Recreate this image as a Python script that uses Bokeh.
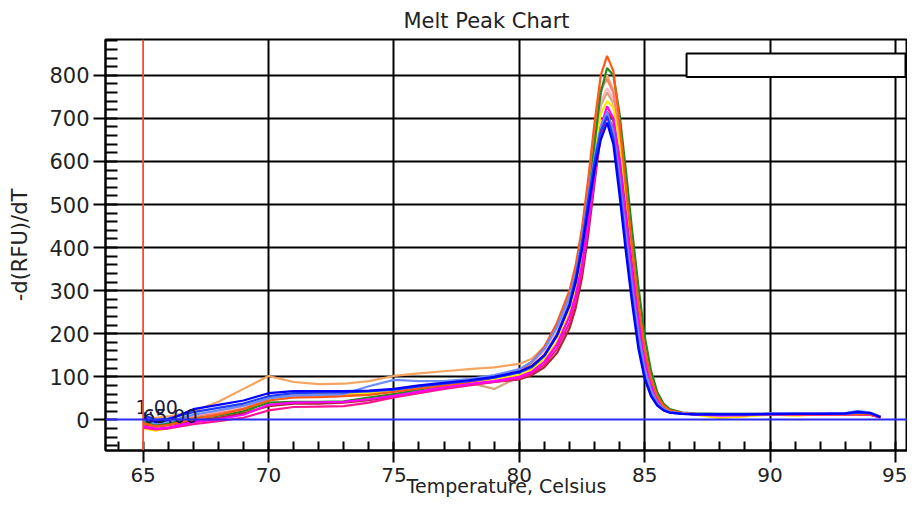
from bokeh.plotting import figure
from bokeh.models import Range1d, SingleIntervalTicker, FixedTicker, Span, BoxAnnotation
from bokeh.core.properties import value
from bokeh.embed import file_html
from bokeh.resources import INLINE

# ---- data -------------------------------------------------------------
temps = [65.0, 65.5, 66.0, 67.0, 68.0, 69.0, 70.0, 71.0, 72.0, 73.0, 74.0, 75.0, 76.0, 77.0, 78.0, 79.0, 80.0,
         80.5, 81.0, 81.5, 82.0,
         82.25, 82.5, 82.75, 83.0, 83.25, 83.5, 83.75, 84.0, 84.25, 84.5, 84.75, 85.0, 85.25, 85.5, 85.75, 86.0,
         86.5, 87.0, 88.0, 89.0, 90.0, 91.0, 92.0, 93.0, 93.5, 94.0, 94.4]

tan = [0, -6, -2, 10, 18, 30, 50, 56, 57, 58, 62, 68, 76, 84, 86, 72, 100,
       120, 152, 200, 272,
       330, 410, 520, 640, 730, 760, 735, 640, 510, 380, 262, 162, 94, 54, 33, 22,
       16, 14, 13, 13, 14, 14, 14, 14, 15, 14, 7]
sandy = [8, 5, 8, 20, 42, 72, 102, 88, 83, 84, 90, 102, 108, 113, 118, 122, 130,
         142, 170, 220, 295,
         350, 430, 540, 660, 760, 800, 765, 650, 510, 380, 260, 160, 92, 52, 32, 22,
         16, 14, 13, 13, 14, 14, 14, 14, 15, 14, 8]
lightpink = [2, -6, -3, 10, 18, 28, 46, 52, 54, 56, 60, 68, 78, 88, 94, 100, 112,
             128, 158, 208, 280,
             340, 420, 530, 650, 740, 770, 745, 650, 520, 390, 270, 168, 98, 56, 34, 23,
             17, 15, 14, 14, 15, 15, 15, 15, 18, 16, 8]
salmon = [-3, -10, -6, 6, 15, 26, 48, 55, 56, 57, 60, 66, 74, 82, 90, 98, 114,
          132, 165, 218, 292,
          352, 435, 550, 675, 770, 790, 760, 660, 525, 392, 268, 165, 96, 55, 33, 22,
          16, 14, 13, 13, 14, 14, 14, 14, 15, 14, 7]
yellow = [-20, -25, -20, -8, 2, 15, 45, 58, 60, 61, 62, 66, 74, 82, 88, 95, 104,
          116, 140, 182, 250,
          305, 380, 485, 610, 710, 740, 725, 640, 510, 380, 260, 160, 92, 52, 32, 21,
          15, 12, 4, 8, 12, 10, 13, 13, 13, 12, 6]
green = [-5, -12, -8, 3, 10, 20, 40, 42, 42, 43, 52, 60, 70, 80, 93, 100, 110,
         122, 148, 195, 265,
         320, 400, 510, 640, 760, 817, 800, 710, 580, 440, 310, 195, 115, 65, 38, 25,
         17, 15, 14, 14, 14, 14, 14, 14, 14, 13, 7]
brown = [-10, -15, -12, -2, 5, 15, 32, 38, 38, 40, 46, 54, 64, 74, 82, 88, 94,
         104, 122, 155, 212,
         260, 330, 430, 550, 665, 715, 695, 605, 480, 355, 240, 148, 86, 50, 31, 21,
         16, 14, 13, 13, 13, 13, 13, 13, 13, 12, 6]
deeppink = [-18, -22, -20, -10, -3, 5, 22, 30, 31, 32, 40, 52, 62, 72, 80, 88, 96,
            108, 128, 165, 225,
            275, 345, 445, 560, 660, 705, 680, 585, 460, 335, 225, 138, 80, 46, 29, 20,
            15, 13, 12, 11, 13, 13, 13, 13, 13, 12, 6]
magenta = [-15, -20, -18, -5, 2, 12, 35, 40, 41, 42, 48, 56, 66, 76, 84, 90, 100,
           112, 135, 175, 240,
           290, 360, 460, 575, 680, 728, 700, 600, 470, 345, 230, 140, 80, 46, 29, 20,
           15, 13, 10, 11, 13, 13, 13, 13, 14, 12, 6]
orangered = [-8, -15, -12, 2, 12, 25, 45, 52, 53, 55, 58, 65, 73, 80, 88, 98, 115,
             135, 170, 225, 300,
             360, 445, 560, 690, 800, 845, 810, 690, 540, 400, 270, 165, 95, 55, 33, 22,
             16, 14, 13, 13, 13, 13, 13, 13, 14, 13, 7]
cornflower = [0, -8, -4, 12, 22, 33, 50, 57, 58, 60, 78, 93, 90, 90, 95, 104, 118,
              135, 165, 215, 285,
              340, 420, 520, 610, 680, 715, 670, 560, 430, 310, 200, 118, 68, 40, 26, 19,
              15, 14, 14, 14, 15, 15, 15, 16, 21, 17, 8]
royal = [12, 0, 3, 18, 28, 38, 55, 62, 63, 64, 66, 70, 78, 84, 90, 98, 110,
         124, 150, 198, 270,
         330, 410, 510, 600, 670, 705, 655, 540, 405, 285, 175, 100, 58, 35, 23, 17,
         14, 13, 13, 13, 13, 14, 14, 14, 17, 15, 7]
blue = [5, -5, 0, 25, 35, 45, 62, 67, 67, 67, 68, 72, 80, 86, 92, 100, 112,
        125, 150, 195, 265,
        320, 395, 490, 580, 650, 690, 640, 520, 390, 270, 165, 95, 55, 33, 22, 17,
        14, 13, 13, 13, 14, 14, 14, 15, 19, 16, 6]

series = [tan, sandy, lightpink, salmon, yellow, green, brown, deeppink,
          magenta, orangered, cornflower, royal, blue]
series_colors = ["#d2a679", "#f4a460", "#ffb6c1", "#fa8072", "#ffe600", "#228b22", "#a52a2a", "#ff1493",
                 "#ff00ff", "#ff5a14", "#6a8cff", "#1e3cff", "#0000ff"]

x_ticks_major = [65, 70, 75, 80, 85, 90, 95]
y_ticks_major = [0, 100, 200, 300, 400, 500, 600, 700, 800]
cursor_temp = 65.0
cursor_level = 1.0
cursor_labels = ["1.00", "65.00"]
cursor_label_x = [64.7, 65.0]
cursor_label_y = [31, 9]

# ---- figure -----------------------------------------------------------
FONT = "DejaVu Sans"
p = figure(width=907, height=501, output_backend="svg", toolbar_location=None,
           x_range=Range1d(63.5, 95.48), y_range=Range1d(-71, 883),
           min_border_left=105, min_border_right=0, min_border_top=38, min_border_bottom=51,
           title="Melt Peak Chart")
p.background_fill_color = "white"
p.border_fill_color = "white"
p.outline_line_color = "black"
p.outline_line_width = 2

p.title.align = "left"
p.title.offset = 298
p.title.text_font = FONT
p.title.text_font_size = "21px"
p.title.text_font_style = "normal"
p.title.text_color = "#222222"
p.title.standoff = 13

# axes
p.xaxis.ticker = SingleIntervalTicker(interval=5, num_minor_ticks=5)
p.yaxis.ticker = SingleIntervalTicker(interval=100, num_minor_ticks=5)
for ax in (p.xaxis, p.yaxis):
    ax.axis_line_color = "black"
    ax.axis_line_width = 2
    ax.major_tick_line_color = "black"
    ax.major_tick_line_width = 2
    ax.minor_tick_line_color = "black"
    ax.minor_tick_line_width = 2
    ax.major_label_text_font = FONT
    ax.major_label_text_font_size = "21px"
    ax.major_label_text_color = "#222222"
    ax.axis_label_text_font = FONT
    ax.axis_label_text_font_style = "normal"
    ax.axis_label_text_color = "#222222"
    ax.major_tick_in = 0
    ax.minor_tick_out = 0

p.xaxis.axis_label = "Temperature, Celsius"
p.xaxis.axis_label_text_font_size = "19px"
p.xaxis.major_label_text_font_size = "20px"
p.xaxis.major_tick_out = 12
p.xaxis.minor_tick_in = 9
p.xaxis.major_label_standoff = 5
p.xaxis.axis_label_standoff = -10

p.yaxis.axis_label = "-d(RFU)/dT"
p.yaxis.axis_label_text_font_size = "21px"
p.yaxis.major_tick_out = 12
p.yaxis.minor_tick_in = 12
p.yaxis.major_label_standoff = 4
p.yaxis.axis_label_standoff = 14

# grids (black, cursor lines replace 65 / 0)
p.xgrid.ticker = FixedTicker(ticks=x_ticks_major[1:])
p.ygrid.ticker = FixedTicker(ticks=y_ticks_major[1:])
for g in (p.xgrid, p.ygrid):
    g.grid_line_color = "black"
    g.grid_line_width = 2
    g.grid_line_alpha = 1.0

# curves
for ys, c in zip(series, series_colors):
    p.line(temps, ys, line_color=c, line_width=2.2)

# cursor lines
p.add_layout(Span(location=cursor_temp, dimension="height", line_color="#ff4a2a", line_width=1.8))
p.add_layout(Span(location=cursor_level, dimension="width", line_color="#2a2aff", line_width=2))

p.text(x=cursor_label_x, y=cursor_label_y, text=cursor_labels,
       text_font=value(FONT), text_font_size=value("19px"), text_color="#1a1a40",
       text_baseline="alphabetic", text_align="left")

# empty legend frame
p.add_layout(BoxAnnotation(left=86.67, right=95.40, bottom=796, top=850.5,
                           fill_color="white", fill_alpha=1.0,
                           line_color="black", line_alpha=1.0, line_width=2))

open("out.html", "w").write(file_html(p, INLINE))
